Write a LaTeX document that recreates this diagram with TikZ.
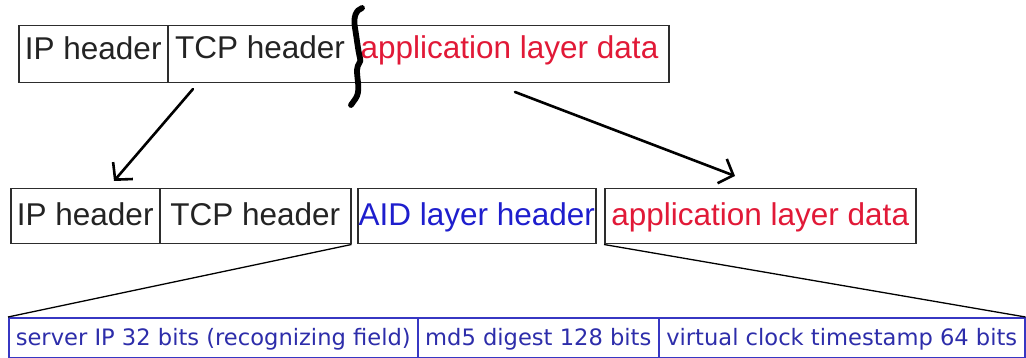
\documentclass[tikz,border=0pt]{standalone}
\usepackage{fontspec}
\setmainfont{Liberation Sans}
\newfontfamily\fieldfont{DejaVu Sans}
\usetikzlibrary{arrows.meta}

\definecolor{inkgray}{RGB}{35,35,35}
\definecolor{framegray}{RGB}{45,45,45}
\definecolor{datared}{RGB}{225,25,55}
\definecolor{aidblue}{RGB}{30,30,205}
\definecolor{fieldblue}{RGB}{45,45,170}
\definecolor{fieldframe}{RGB}{55,55,195}

\tikzset{
  cell/.style={draw=framegray, line width=1.5pt, inner sep=0pt, anchor=north west,
    font=\fontsize{31.5}{36}\selectfont, text=inkgray},
  toprow/.style={text height=23pt, text depth=12pt},
  midrow/.style={text height=23pt, text depth=4pt},
  label/.style={inner sep=0pt, anchor=base, font=\fontsize{31.5}{36}\selectfont},
  fieldcell/.style={draw=fieldframe, line width=1.5pt, inner sep=0pt, anchor=north west,
    minimum height=40pt, font=\fieldfont\fontsize{22.6}{26}\selectfont, text=fieldblue,
    text height=16.5pt, text depth=1.5pt},
  handarrow/.style={line width=2.6pt, line cap=round, line join=round,
    -{Straight Barb[length=12pt, width=26pt]}},
  brace/.style={line width=5.8pt, line cap=round, line join=round},
  fan/.style={line width=1.3pt, draw=black}
}

\begin{document}
\begin{tikzpicture}[x=1pt, y=-1pt]
  \useasboundingbox (0,0) rectangle (1026,358);

  % original packet: IP | TCP + payload
  \node[cell, toprow, minimum width=149pt, minimum height=57pt] (ip1) at (18,25) {IP header};
  \node[cell, minimum width=501pt, minimum height=57pt] (body1) at (167,25) {};
  \node[label, text=inkgray] (tcp1) at (260,59) {TCP header};
  \node[label, text=datared] (app1) at (509.5,59) {application layer data};

  % hand-drawn brace marking the split point
  \draw[brace] (362,8) .. controls (356,10) and (353,17) .. (355,28)
    .. controls (357,40) and (358,50) .. (360,58)
    .. controls (362,62) and (357,64) .. (357,70)
    .. controls (357,80) and (360,88) .. (357,96)
    .. controls (355,100) and (353,102) .. (351,105);

  % repackaged packet with the AID layer inserted
  \node[cell, midrow, minimum width=149pt, minimum height=55pt] (ip2) at (10,188) {IP header};
  \node[cell, midrow, minimum width=191pt, minimum height=55pt] (tcp2) at (159,188) {TCP header};
  \node[cell, midrow, minimum width=238pt, minimum height=55pt, text=aidblue] (aid2) at (357,188) {AID layer header};
  \node[cell, midrow, minimum width=311pt, minimum height=55pt, text=datared] (app2) at (604,188) {application layer data};

  % fields of the AID layer header
  \node[fieldcell, minimum width=409pt] (srv) at (8,317) {server IP 32 bits (recognizing field)};
  \node[fieldcell, minimum width=241pt] (md5) at (417,317) {md5 digest 128 bits};
  \node[fieldcell, minimum width=366pt] (clk) at (658,317) {virtual clock timestamp 64 bits};

  % arrow ends
  \coordinate (hdrTail) at (193,89);
  \coordinate (hdrHead) at (114,181);
  \coordinate (dataTail) at (515,92);
  \coordinate (dataHead) at (735,176);

  \draw[handarrow] (hdrTail) -- (hdrHead);
  \draw[handarrow] (dataTail) -- (dataHead);

  % fan-out from the AID header to its fields
  \draw[fan] (tcp2.south east) -- (srv.north west);
  \draw[fan] (app2.south west) -- (clk.north east);
\end{tikzpicture}
\end{document}
